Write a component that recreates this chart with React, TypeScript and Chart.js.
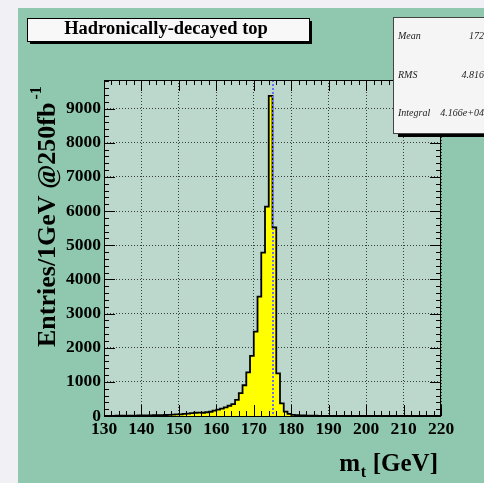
import React, { useEffect, useRef } from "react";
import { Chart, registerables } from "chart.js";

Chart.register(...registerables);

// ---- data ----
const binLowEdges = [
  130, 131, 132, 133, 134, 135, 136, 137, 138, 139,
  140, 141, 142, 143, 144, 145, 146, 147, 148, 149,
  150, 151, 152, 153, 154, 155, 156, 157, 158, 159,
  160, 161, 162, 163, 164, 165, 166, 167, 168, 169,
  170, 171, 172, 173, 174, 175, 176, 177, 178, 179,
  180, 181, 182, 183, 184, 185, 186, 187, 188, 189,
  190, 191, 192, 193, 194, 195, 196, 197, 198, 199,
  200, 201, 202, 203, 204, 205, 206, 207, 208, 209,
  210, 211, 212, 213, 214, 215, 216, 217, 218, 219,
];
const binWidth = 1;
const entries = [
  5, 5, 6, 7, 8, 9, 10, 11, 12, 14,
  16, 18, 20, 22, 25, 28, 30, 35, 40, 45,
  50, 60, 70, 85, 95, 100, 95, 110, 125, 160,
  185, 215, 250, 300, 350, 470, 670, 900, 1280, 1760,
  2470, 3495, 4785, 6130, 9375, 5520, 1250, 370, 130, 60,
  35, 25, 18, 14, 11, 9, 7, 6, 5, 5,
  4, 4, 3, 3, 3, 3, 2, 2, 2, 2,
  2, 2, 1, 1, 1, 1, 1, 1, 1, 1,
  1, 1, 0, 1, 0, 0, 1, 0, 0, 0,
];
const xTickValues = [130, 140, 150, 160, 170, 180, 190, 200, 210, 220];
const yTickValues = [0, 1000, 2000, 3000, 4000, 5000, 6000, 7000, 8000, 9000];
const xRange = [130, 220];
const yRange = [0, 9840];
const markerMass = 175;
const titleText = "Hadronically-decayed top";
const statsLabels = ["Mean", "RMS", "Integral"];
const statsValues = ["172", "4.816", "4.166e+04"];
const yTitleMain = "Entries/1GeV @250fb";
const yTitleSup = "-1";
const xTitleMain = "m";
const xTitleSub = "t";
const xTitleRest = " [GeV]";

const SERIF = "'Liberation Serif', 'Times New Roman', serif";

export default function App() {
  const ref = useRef<HTMLCanvasElement>(null);

  useEffect(() => {
    document.body.style.margin = "0";
    const canvas = ref.current!;

    const points: { x: number; y: number }[] = [];
    points.push({ x: binLowEdges[0], y: 0 });
    entries.forEach((v, i) => {
      points.push({ x: binLowEdges[i], y: v });
      points.push({ x: binLowEdges[i] + binWidth, y: v });
    });
    points.push({ x: binLowEdges[binLowEdges.length - 1] + binWidth, y: 0 });

    const decor = {
      id: "decor",
      beforeDraw(chart: any) {
        const { ctx, chartArea: a, width, height } = chart;
        ctx.save();
        ctx.fillStyle = "#f1f0f5";
        ctx.fillRect(0, 0, width, height);
        ctx.fillStyle = "#8fc8ae";
        ctx.fillRect(18, 8, width - 18, height - 8);
        ctx.fillStyle = "#bcd8cc";
        ctx.fillRect(a.left, a.top, a.right - a.left, a.bottom - a.top);
        ctx.restore();
      },
      afterDatasetsDraw(chart: any) {
        const { ctx, chartArea: a } = chart;
        const xs = chart.scales.x;
        const ys = chart.scales.y;
        ctx.save();
        // marker line
        const mx = Math.round(xs.getPixelForValue(markerMass));
        ctx.strokeStyle = "#6e6ef2";
        ctx.lineWidth = 2;
        ctx.setLineDash([2, 2]);
        ctx.beginPath();
        ctx.moveTo(mx, a.top);
        ctx.lineTo(mx, a.bottom);
        ctx.stroke();
        ctx.setLineDash([]);
        // frame
        ctx.strokeStyle = "#000";
        ctx.lineWidth = 1;
        ctx.strokeRect(a.left + 0.5, a.top + 0.5, a.right - a.left - 1, a.bottom - a.top);
        // ticks
        ctx.beginPath();
        for (let v = xRange[0]; v <= xRange[1]; v += 2) {
          const px = Math.round(xs.getPixelForValue(v)) + 0.5;
          const len = v % 10 === 0 ? 11 : 5;
          ctx.moveTo(px, a.bottom);
          ctx.lineTo(px, a.bottom - len);
          ctx.moveTo(px, a.top);
          ctx.lineTo(px, a.top + len);
        }
        for (let v = yRange[0]; v <= yRange[1]; v += 200) {
          const py = Math.round(ys.getPixelForValue(v)) + 0.5;
          const len = v % 1000 === 0 ? 11 : 5;
          ctx.moveTo(a.left, py);
          ctx.lineTo(a.left + len, py);
          ctx.moveTo(a.right, py);
          ctx.lineTo(a.right - len, py);
        }
        ctx.stroke();
        ctx.restore();
      },
      afterDraw(chart: any) {
        const { ctx } = chart;
        ctx.save();
        // title box
        ctx.fillStyle = "#000";
        ctx.fillRect(30, 21, 282, 23);
        ctx.fillStyle = "#f8f8f8";
        ctx.fillRect(27, 18, 282, 23);
        ctx.strokeStyle = "#000";
        ctx.lineWidth = 1;
        ctx.strokeRect(27.5, 18.5, 282, 23);
        ctx.fillStyle = "#000";
        ctx.font = `bold 18.5px ${SERIF}`;
        ctx.textAlign = "center";
        ctx.textBaseline = "alphabetic";
        ctx.fillText(titleText, 166, 34);

        // stats box
        ctx.fillStyle = "#000";
        ctx.fillRect(398, 21, 100, 116);
        ctx.fillStyle = "#f5f5f5";
        ctx.fillRect(393, 17, 100, 116);
        ctx.strokeStyle = "#444";
        ctx.strokeRect(393.5, 17.5, 100, 116);
        ctx.fillStyle = "#222";
        ctx.font = `italic 10px ${SERIF}`;
        const rows = [39, 78, 116];
        statsLabels.forEach((l, i) => {
          ctx.textAlign = "left";
          ctx.fillText(l, 398, rows[i]);
          ctx.textAlign = "right";
          ctx.fillText(statsValues[i], 484, rows[i]);
        });

        // y title
        ctx.fillStyle = "#000";
        ctx.save();
        ctx.rotate(-Math.PI / 2);
        ctx.textAlign = "left";
        ctx.font = `bold 26px ${SERIF}`;
        ctx.fillText(yTitleMain, -347, 55);
        const wy = ctx.measureText(yTitleMain).width;
        ctx.font = `bold 16px ${SERIF}`;
        ctx.fillText(yTitleSup, -347 + wy + 3, 41);
        ctx.restore();

        // x title
        ctx.textAlign = "left";
        ctx.font = `bold 25px ${SERIF}`;
        const wm = ctx.measureText(xTitleMain).width;
        const wr = ctx.measureText(xTitleRest).width;
        ctx.font = `bold 16px ${SERIF}`;
        const wt = ctx.measureText(xTitleSub).width;
        const start = 438 - (wm + wt + wr + 1);
        ctx.font = `bold 25px ${SERIF}`;
        ctx.fillText(xTitleMain, start, 471);
        ctx.fillText(xTitleRest, start + wm + wt + 1, 471);
        ctx.font = `bold 16px ${SERIF}`;
        ctx.fillText(xTitleSub, start + wm + 0.5, 477);
        ctx.restore();
      },
    };

    const tickFont = { family: SERIF, size: 17.5, weight: "bold" as const };

    const chart = new Chart(canvas, {
      type: "line",
      data: {
        datasets: [
          {
            data: points,
            borderColor: "#000",
            borderWidth: 1.8,
            backgroundColor: "#ffff00",
            fill: "origin",
            pointRadius: 0,
            tension: 0,
          },
        ],
      },
      options: {
        animation: false,
        responsive: false,
        events: [],
        layout: { padding: { top: 80, right: 43, left: 0, bottom: 0 } },
        plugins: {
          legend: { display: false },
          tooltip: { enabled: false },
        },
        scales: {
          x: {
            type: "linear",
            min: xRange[0],
            max: xRange[1],
            afterBuildTicks: (s: any) => {
              s.ticks = xTickValues.map((v) => ({ value: v }));
            },
            afterFit: (s: any) => {
              s.height = 67;
            },
            ticks: {
              autoSkip: false,
              maxRotation: 0,
              padding: 3,
              color: "#000",
              font: tickFont,
              callback: (v: any) => String(v),
            },
            grid: { color: "rgba(0,0,0,0.7)", lineWidth: 1, drawTicks: false },
            border: { display: false, dash: [1, 2] },
          },
          y: {
            type: "linear",
            min: yRange[0],
            max: yRange[1],
            afterBuildTicks: (s: any) => {
              s.ticks = yTickValues.map((v) => ({ value: v }));
            },
            afterFit: (s: any) => {
              s.width = 104;
            },
            ticks: {
              autoSkip: false,
              padding: 3,
              color: "#000",
              font: tickFont,
              callback: (v: any) => String(v),
            },
            grid: { color: "rgba(0,0,0,0.7)", lineWidth: 1, drawTicks: false },
            border: { display: false, dash: [1, 2] },
          },
        },
      },
      plugins: [decor],
    } as any);

    return () => chart.destroy();
  }, []);

  return (
    <canvas
      ref={ref}
      width={484}
      height={483}
      style={{ display: "block", position: "fixed", left: 0, top: 0 }}
    />
  );
}
